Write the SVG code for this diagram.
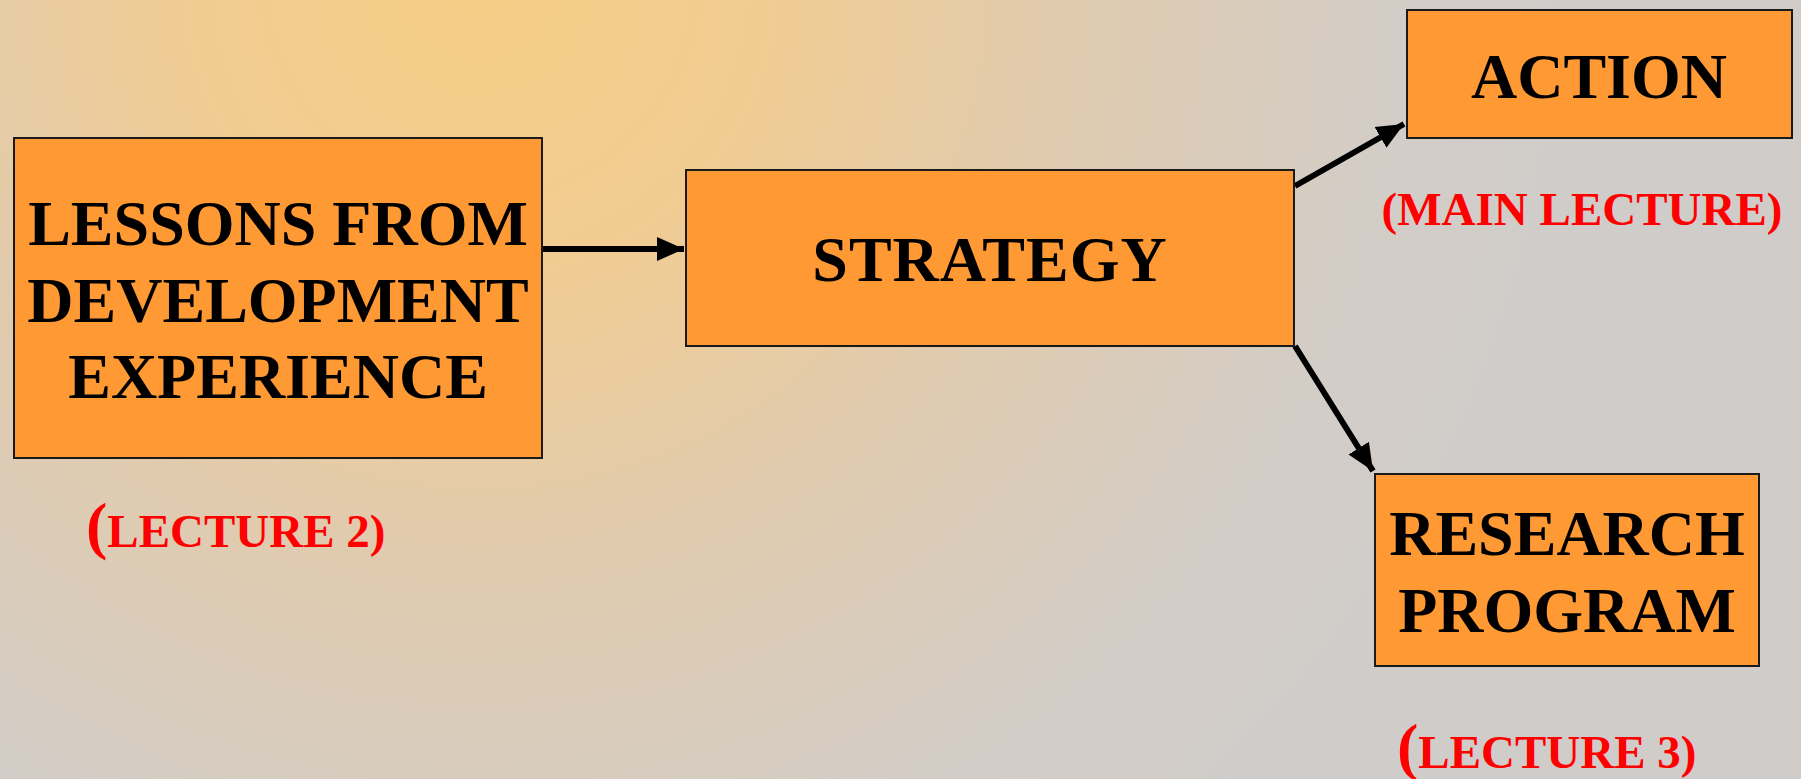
<svg xmlns="http://www.w3.org/2000/svg" width="1801" height="779" viewBox="0 0 1801 779">
<style>
.box{fill:#FF9933;stroke:#1a1a1a;stroke-width:2}
.t{font-family:"Liberation Serif","Times New Roman",serif;font-weight:bold;font-size:64px;fill:#000;text-anchor:middle}
.r{font-family:"Liberation Serif","Times New Roman",serif;font-weight:bold;font-size:47px;fill:#FF0000}
.big{font-size:64px}
.c{stroke:#000;stroke-width:6;fill:none}
</style>
<defs>
<radialGradient id="bg" gradientUnits="userSpaceOnUse" cx="480" cy="-20" r="1150">
<stop offset="0" stop-color="#F6CD86"/>
<stop offset="0.25" stop-color="#F1CC92"/>
<stop offset="0.5" stop-color="#E1CBAE"/>
<stop offset="0.8" stop-color="#D3CDC7"/>
<stop offset="1" stop-color="#CFCCCA"/>
</radialGradient>
<marker id="ah" markerWidth="5" markerHeight="5" refX="4.5" refY="2.5" orient="auto" markerUnits="strokeWidth">
<path d="M0,0.5 L4.5,2.5 L0,4.5 Z" fill="#000"/>
</marker>
</defs>
<rect x="0" y="0" width="1801" height="779" fill="url(#bg)"/>
<g id="connectors">
<line class="c" x1="542" y1="249" x2="684" y2="249" marker-end="url(#ah)"/>
<line class="c" x1="1295" y1="186" x2="1404" y2="124" marker-end="url(#ah)"/>
<line class="c" x1="1295" y1="346" x2="1373" y2="471" marker-end="url(#ah)"/>
</g>
<g id="lessons">
<rect class="box" x="14" y="138" width="528" height="320"/>
<text class="t" x="278" y="245">LESSONS FROM</text>
<text class="t" x="278" y="322">DEVELOPMENT</text>
<text class="t" x="278" y="398">EXPERIENCE</text>
</g>
<g id="lecture2">
<text class="r" x="86" y="547"><tspan class="big">(</tspan>LECTURE 2)</text>
</g>
<g id="strategy">
<rect class="box" x="686" y="170" width="608" height="176"/>
<text class="t" x="990" y="281" letter-spacing="1">STRATEGY</text>
</g>
<g id="action">
<rect class="box" x="1407" y="10" width="385" height="128"/>
<text class="t" x="1599" y="98">ACTION</text>
</g>
<g id="mainlecture">
<text class="r" x="1582" y="225" text-anchor="middle">(MAIN LECTURE)</text>
</g>
<g id="research">
<rect class="box" x="1375" y="474" width="384" height="192"/>
<text class="t" x="1567" y="555">RESEARCH</text>
<text class="t" x="1567" y="632">PROGRAM</text>
</g>
<g id="lecture3">
<text class="r" x="1397" y="768"><tspan class="big">(</tspan>LECTURE 3)</text>
</g>
</svg>
